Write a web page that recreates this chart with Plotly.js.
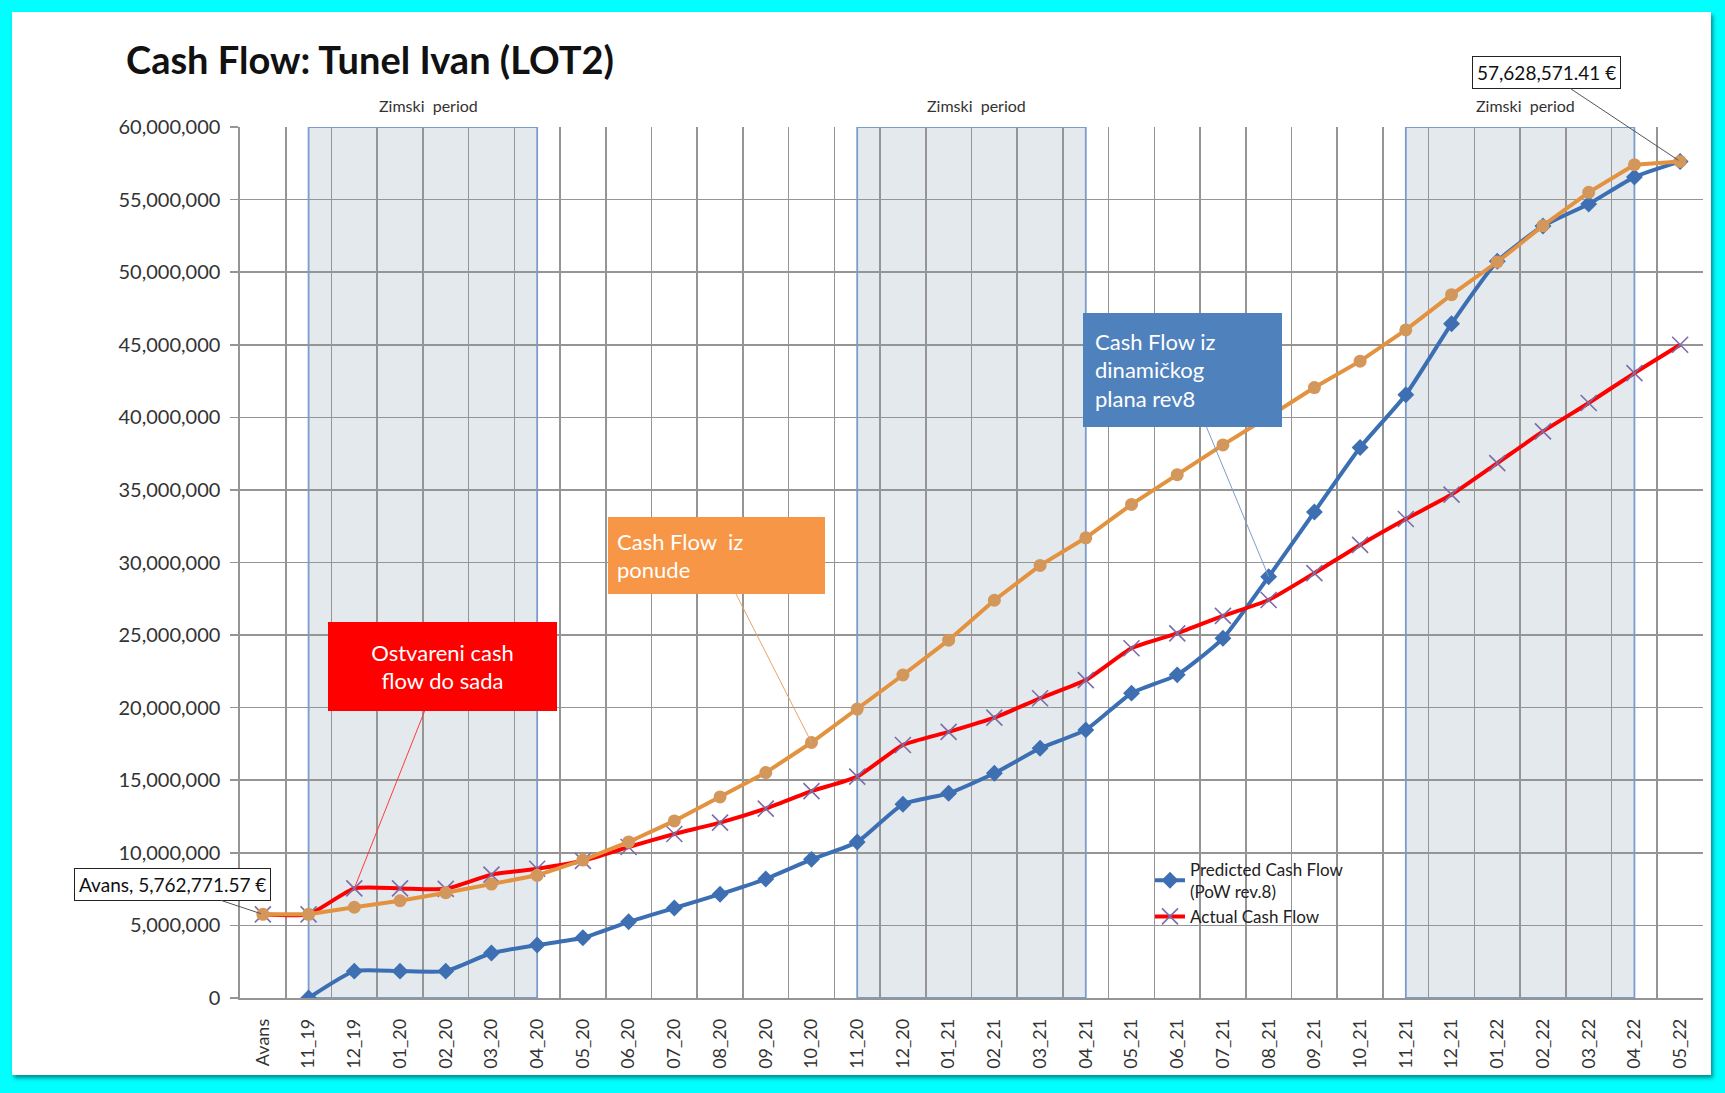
<!DOCTYPE html>
<html>
<head>
<meta charset="utf-8">
<script src="https://cdn.plot.ly/plotly-3.0.1.min.js"></script>
<style>
  html, body { margin: 0; padding: 0; background: #00ffff; width: 1725px; height: 1093px; overflow: hidden; }
  #card { position: absolute; left: 12px; top: 12px; width: 1699px; height: 1063px; background: #ffffff;
          box-shadow: 2px 3px 4px rgba(0,0,0,0.45); }
  #chart { position: absolute; left: 0; top: 0; width: 1699px; height: 1063px; }
</style>
</head>
<body>
<div id="card"><div id="chart"></div></div>
<script>
// ---- Data ----
const categories = ['Avans','11_19','12_19','01_20','02_20','03_20','04_20','05_20','06_20','07_20','08_20','09_20','10_20',
  '11_20','12_20','01_21','02_21','03_21','04_21','05_21','06_21','07_21','08_21','09_21','10_21','11_21','12_21',
  '01_22','02_22','03_22','04_22','05_22'];

// Cash flow iz ponude (offer)
const offerCashFlow = [5762771.57, 5762771.57, 6250000, 6700000, 7250000, 7850000, 8450000, 9500000, 10750000, 12200000,
  13850000, 15530000, 17600000, 19900000, 22250000, 24650000, 27400000, 29800000, 31700000, 34000000, 36050000,
  38100000, 40050000, 42050000, 43870000, 46020000, 48450000, 50700000, 53200000, 55500000, 57400000, 57628571.41];

// Predicted Cash Flow (PoW rev.8)
const predictedCashFlow = [null, 0, 1850000, 1850000, 1850000, 3100000, 3650000, 4150000, 5250000, 6200000,
  7150000, 8200000, 9550000, 10750000, 13350000, 14100000, 15480000, 17200000, 18470000, 21000000, 22260000,
  24780000, 29020000, 33480000, 37920000, 41560000, 46450000, 50750000, 53180000, 54700000, 56550000, 57628571.41];

// Actual Cash Flow
const actualCashFlow = [5762771.57, 5762771.57, 7550000, 7550000, 7520000, 8500000, 8900000, 9450000, 10400000, 11300000,
  12080000, 13050000, 14250000, 15250000, 17430000, 18330000, 19310000, 20650000, 21900000, 24090000, 25120000,
  26320000, 27420000, 29270000, 31210000, 33000000, 34680000, 36850000, 39030000, 40990000, 43050000, 45000000];

const yTickValues = [0, 5000000, 10000000, 15000000, 20000000, 25000000, 30000000, 35000000, 40000000, 45000000, 50000000, 55000000, 60000000];

// Winter periods (Zimski period)
const winterStart = ['11_19', '11_20', '11_21'];
const winterEnd   = ['04_20', '04_21', '04_22'];
const winterLabel = 'Zimski\u00a0\u00a0period';

const titleText = 'Cash Flow: Tunel Ivan (LOT2)';

// ---- Styling ----
const FONT = 'Lato, "Open Sans", "Liberation Sans", sans-serif';
const GRID = '#959595';
const fmtEuro = v => new Intl.NumberFormat('en-US', {minimumFractionDigits: 2, maximumFractionDigits: 2}).format(v) + ' \u20ac';
const idx = c => categories.indexOf(c);

const traces = [
  {
    x: categories, y: predictedCashFlow, type: 'scatter', mode: 'lines+markers',
    name: 'Predicted Cash Flow<br>(PoW rev.8)',
    line: {color: '#3b6eb3', width: 4, shape: 'spline', smoothing: 0.5},
    marker: {symbol: 'diamond', size: 13, color: '#3d6fb2'},
    connectgaps: false
  },
  {
    x: categories, y: actualCashFlow, type: 'scatter', mode: 'lines+markers',
    name: 'Actual Cash Flow',
    line: {color: '#ff0000', width: 4, shape: 'spline', smoothing: 0.5},
    marker: {symbol: 'x-thin-open', size: 16, color: '#7b6ea8', line: {color: '#7b6ea8', width: 1.6}}
  },
  {
    x: categories, y: offerCashFlow, type: 'scatter', mode: 'lines+markers',
    name: 'Cash Flow iz ponude', showlegend: false,
    line: {color: '#e3923f', width: 4},
    marker: {symbol: 'circle', size: 13, color: '#d4975b'}
  }
];

const shapes = winterStart.map((s, k) => ({
  type: 'rect', xref: 'x', yref: 'y', layer: 'below',
  x0: idx(s), x1: idx(winterEnd[k]), y0: 0, y1: yTickValues[yTickValues.length - 1],
  fillcolor: '#e4e9ee', line: {color: '#7b9ccc', width: 1.8}
}));

const annotations = winterStart.map((s, k) => ({
  xref: 'x', yref: 'paper', x: (idx(s) + idx(winterEnd[k])) / 2 + 0.12, y: 1,
  yanchor: 'bottom', yshift: 10, showarrow: false, text: winterLabel,
  font: {family: FONT, size: 16, color: '#333'}
}));

const last = categories.length - 1;
annotations.push(
  { // Avans label
    xref: 'x', yref: 'y', x: categories[0], y: offerCashFlow[0],
    text: categories[0] + ', ' + fmtEuro(offerCashFlow[0]),
    showarrow: true, arrowhead: 0, arrowwidth: 1, arrowcolor: '#555', ax: -90, ay: -30, standoff: 2,
    bgcolor: '#ffffff', bordercolor: '#222', borderwidth: 1, borderpad: 4,
    font: {family: FONT, size: 19, color: '#111'}
  },
  { // final value label
    xref: 'x', yref: 'y', x: categories[last], y: offerCashFlow[last],
    text: fmtEuro(offerCashFlow[last]),
    showarrow: true, arrowhead: 0, arrowwidth: 1, arrowcolor: '#555', ax: -134, ay: -89, standoff: 2,
    bgcolor: '#ffffff', bordercolor: '#222', borderwidth: 1, borderpad: 4,
    font: {family: FONT, size: 19, color: '#111'}
  },
  { // red callout
    xref: 'x', yref: 'y', x: categories[2], y: actualCashFlow[2],
    text: 'Ostvareni cash<br>flow do sada', align: 'center', valign: 'middle',
    showarrow: true, arrowhead: 0, arrowwidth: 1, arrowcolor: '#ff3b3b', ax: 88, ay: -222, standoff: 0,
    bgcolor: '#ff0000', borderpad: 0, borderwidth: 0, width: 229, height: 89,
    font: {family: FONT, size: 22, color: '#ffffff'}
  },
  { // orange callout
    xref: 'x', yref: 'y', x: categories[12], y: offerCashFlow[12],
    text: 'Cash Flow\u00a0\u00a0iz<br>ponude', align: 'left', valign: 'middle',
    showarrow: true, arrowhead: 0, arrowwidth: 1, arrowcolor: '#e5a46a', ax: -95, ay: -187, standoff: 0,
    bgcolor: '#f79646', borderpad: 9, borderwidth: 0, width: 199, height: 59,
    font: {family: FONT, size: 22, color: '#ffffff'}
  },
  { // blue callout
    xref: 'x', yref: 'y', x: categories[22], y: predictedCashFlow[22],
    text: 'Cash Flow iz<br>dinamičkog<br>plana rev8', align: 'left', valign: 'middle',
    showarrow: true, arrowhead: 0, arrowwidth: 1, arrowcolor: '#7f9cc6', ax: -86, ay: -207, standoff: 0,
    bgcolor: '#4f81bd', borderpad: 12, borderwidth: 0, width: 175, height: 90,
    font: {family: FONT, size: 22, color: '#ffffff'}
  }
);

const layout = {
  width: 1699, height: 1063,
  margin: {l: 228, r: 8, t: 115, b: 77, pad: 0},
  paper_bgcolor: '#ffffff', plot_bgcolor: '#ffffff',
  font: {family: FONT, color: '#333'},
  title: {
    text: '<b>' + titleText + '</b>', xref: 'container', yref: 'container',
    x: 114 / 1699, xanchor: 'left', y: 1 - 49 / 1063, yanchor: 'middle',
    font: {family: FONT, size: 38, color: '#111'}
  },
  xaxis: {
    type: 'category', categoryorder: 'array', categoryarray: categories,
    range: [-0.5, categories.length - 0.5], tickson: 'boundaries',
    showgrid: true, gridcolor: GRID, gridwidth: 1.6,
    showline: true, linecolor: GRID, linewidth: 1.6,
    ticks: '', tickangle: -90, ticklabelstandoff: 12,
    tickfont: {family: FONT, size: 18, color: '#333'}, fixedrange: true
  },
  yaxis: {
    range: [0, yTickValues[yTickValues.length - 1]], tickmode: 'array', tickvals: yTickValues,
    tickformat: ',d', showgrid: true, gridcolor: GRID, gridwidth: 1.6, zeroline: false,
    showline: true, linecolor: GRID, linewidth: 1.6,
    ticks: 'outside', ticklen: 8, tickcolor: GRID, tickwidth: 1.6, ticklabelstandoff: 6,
    tickfont: {family: FONT, size: 20, color: '#333'}, fixedrange: true
  },
  legend: {
    x: 0.622, y: 0.168, xanchor: 'left', yanchor: 'top', bgcolor: 'rgba(0,0,0,0)',
    font: {family: FONT, size: 17, color: '#222'}, tracegroupgap: 4
  },
  shapes: shapes,
  annotations: annotations,
  hovermode: false
};

Plotly.newPlot('chart', traces, layout, {displayModeBar: false, staticPlot: true});
</script>
</body>
</html>
